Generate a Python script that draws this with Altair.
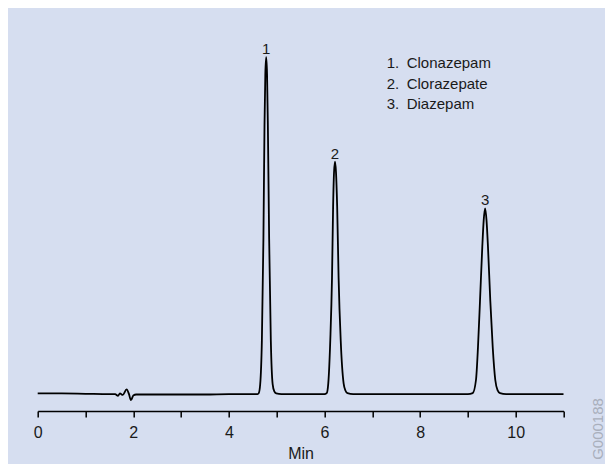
import altair as alt
import pandas as pd

# chromatogram trace (time in min, detector signal)
time_min = [
    0.00, 0.50, 1.00, 1.50, 1.62, 1.68, 1.72, 1.78, 1.86, 1.91, 1.95, 2.00, 2.06,
    2.50, 3.00, 3.50, 4.00, 4.40,
    4.600, 4.625, 4.655, 4.690, 4.722, 4.745, 4.762, 4.780, 4.798, 4.815, 4.842,
    4.877, 4.915, 4.950, 4.990, 5.10,
    5.50, 5.90,
    6.000, 6.046, 6.079, 6.121, 6.157, 6.180, 6.200, 6.220, 6.240, 6.265, 6.295,
    6.339, 6.400, 6.440, 6.480, 6.60,
    7.00, 7.50, 8.00, 8.50,
    9.000, 9.100, 9.169, 9.211, 9.253, 9.301, 9.330, 9.360, 9.390, 9.420, 9.469,
    9.519, 9.573, 9.620, 9.672, 9.80,
    10.30, 11.00,
]
signal = [
    0.2, 0.2, 0.1, 0.0, 0.0, -0.5, 0.2, -0.2, 1.4, 0.0, -1.8, -0.4, -0.1,
    -0.1, -0.1, -0.1, 0.0, 0.0,
    0.0, 0.3, 3.0, 16.0, 46.0, 80.0, 95.0, 100.0, 95.0, 80.0, 46.0,
    16.0, 3.0, 0.8, 0.2, 0.0,
    0.0, 0.0,
    0.0, 0.3, 3.2, 16.0, 34.5, 55.6, 66.0, 69.0, 66.0, 55.6, 34.5,
    16.0, 3.2, 1.0, 0.3, 0.0,
    0.0, 0.0, 0.0, 0.0,
    0.0, 0.3, 4.2, 14.0, 27.6, 43.7, 51.5, 55.1, 51.5, 43.7, 27.6,
    14.0, 4.2, 1.2, 0.3, 0.0,
    0.0, 0.0,
]

peak_labels = ["1", "2", "3"]
peak_times = [4.78, 6.22, 9.36]
peak_heights = [100.0, 69.0, 55.1]

legend_numbers = ["1.", "2.", "3."]
legend_names = ["Clonazepam", "Clorazepate", "Diazepam"]

tick_values = list(range(0, 12))

BG = "#d6def0"
INK = "#1a1a1a"

trace = pd.DataFrame({"t": time_min, "s": signal})
peaks = pd.DataFrame({"t": peak_times, "s": peak_heights, "lab": peak_labels})
one = pd.DataFrame({"k": [0]})

x_scale = alt.Scale(domain=[0, 11], nice=False, zero=False)
y_scale = alt.Scale(domain=[-5, 110], nice=False, zero=False)

line = alt.Chart(trace).mark_line(
    color="black", strokeWidth=1.8, interpolate="monotone"
).encode(
    x=alt.X(
        "t:Q",
        scale=x_scale,
        axis=alt.Axis(
            title="Min",
            values=tick_values,
            labelExpr="datum.value % 2 == 0 ? datum.label : ''",
            labelFlush=False,
            grid=False,
            tickSize=6,
            tickWidth=1.5,
            tickColor="black",
            domainColor="black",
            domainWidth=1.5,
            labelFontSize=16,
            labelColor=INK,
            labelPadding=7,
            titleFontSize=16,
            titleFontWeight="normal",
            titleColor=INK,
            titleBaseline="alphabetic",
            titleY=47,
        ),
    ),
    y=alt.Y("s:Q", scale=y_scale, axis=None),
)

peak_text = alt.Chart(peaks).mark_text(
    fontSize=15, color=INK, baseline="alphabetic", dy=-3
).encode(
    x=alt.X("t:Q", scale=x_scale),
    y=alt.Y("s:Q", scale=y_scale),
    text="lab:N",
)

legend_num = alt.Chart(one).mark_text(
    text=legend_numbers, fontSize=15, color=INK, align="left",
    baseline="alphabetic", lineHeight=20.5,
).encode(x=alt.value(349), y=alt.value(44.9))

legend_txt = alt.Chart(one).mark_text(
    text=legend_names, fontSize=15, color=INK, align="left",
    baseline="alphabetic", lineHeight=20.5,
).encode(x=alt.value(369), y=alt.value(44.9))

code_txt = alt.Chart(one).mark_text(
    text="G000188", fontSize=15, color="#a9afbc", angle=270,
    align="center", baseline="middle",
).encode(x=alt.value(560), y=alt.value(405.6))

chart = alt.layer(line, peak_text, legend_num, legend_txt, code_txt).properties(
    width=525.8,
    height=387.6,
    autosize=alt.AutoSizeParams(type="none"),
    padding={"left": 29.7, "top": 15.4, "right": 41.5, "bottom": 53},
    background=BG,
).configure(
    font="Liberation Sans",
).configure_view(stroke=None)

chart.save("out.html", embed_options={"renderer": "svg", "actions": False})
